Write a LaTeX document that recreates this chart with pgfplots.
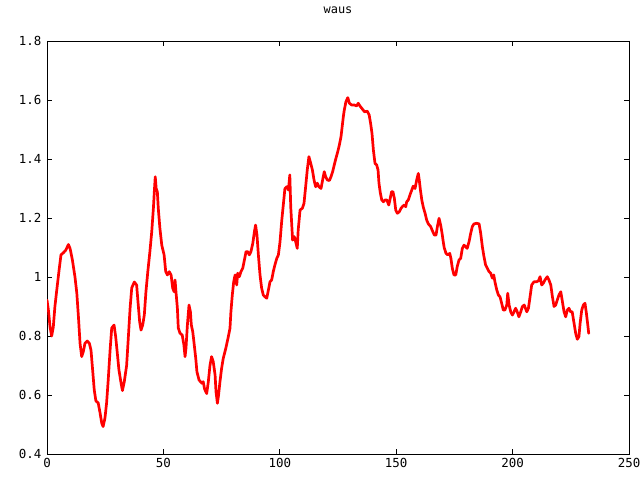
\documentclass[border=0pt]{standalone}
\usepackage{pgfplots}
\pgfplotsset{compat=1.18}
\usepackage{fontspec}
\setmainfont{DejaVu Sans Mono}
\pgfplotstableread{
x y
0 0.922
0.6 0.888
1.3 0.831
2.0 0.80
2.7 0.83
3.4 0.90
4.2 0.956
5.2 1.024
6.0 1.075
7.0 1.082
8.0 1.09
9.2 1.11
9.9 1.097
10.9 1.058
12.0 1.001
12.8 0.946
13.5 0.865
14.2 0.775
14.9 0.73
15.6 0.747
16.3 0.775
17.3 0.783
18.2 0.775
18.9 0.752
19.6 0.685
20.3 0.617
21.0 0.58
22.0 0.573
22.8 0.539
23.5 0.505
24.1 0.493
24.9 0.522
25.6 0.573
26.3 0.651
27.1 0.752
27.8 0.827
28.8 0.837
29.5 0.798
30.2 0.742
30.9 0.685
31.8 0.641
32.4 0.615
33.2 0.645
34.2 0.70
34.9 0.79
35.7 0.895
36.4 0.963
37.5 0.983
38.5 0.973
39.2 0.905
39.8 0.848
40.4 0.82
41.1 0.837
41.8 0.871
42.5 0.95
43.3 1.018
44.2 1.086
45.0 1.154
45.7 1.233
46.1 1.289
46.5 1.34
46.9 1.30
47.4 1.289
47.8 1.233
48.5 1.165
49.3 1.108
50.3 1.075
51.0 1.018
51.7 1.007
52.5 1.018
53.3 1.007
54.0 0.962
54.6 0.95
55.0 0.99
55.4 0.95
56.0 0.895
56.4 0.827
57.1 0.81
58.1 0.803
58.8 0.77
59.3 0.73
59.7 0.758
60.3 0.837
61.0 0.905
61.6 0.882
62.0 0.837
62.6 0.815
63.1 0.781
63.9 0.724
64.4 0.679
65.3 0.651
66.5 0.64
67.1 0.645
67.7 0.62
68.6 0.605
69.3 0.645
70.0 0.70
70.7 0.73
71.4 0.713
72.2 0.668
72.6 0.611
73.2 0.572
73.7 0.60
74.3 0.645
75.0 0.69
75.7 0.724
76.8 0.758
77.9 0.798
78.6 0.826
79.0 0.882
79.6 0.939
80.2 0.984
80.8 1.007
81.5 0.973
81.9 1.013
82.6 1.001
83.3 1.018
84.1 1.03
84.8 1.058
85.5 1.086
86.2 1.086
86.9 1.075
87.6 1.086
88.4 1.114
89.1 1.154
89.6 1.176
90.2 1.142
90.8 1.075
91.5 1.007
92.2 0.962
92.9 0.939
93.6 0.933
94.4 0.928
95.1 0.956
95.8 0.984
96.5 0.99
97.2 1.018
97.9 1.041
98.7 1.063
99.4 1.075
100.1 1.12
100.8 1.188
101.5 1.244
102.2 1.30
103.0 1.306
103.7 1.295
104.3 1.346
104.7 1.238
105.1 1.182
105.5 1.125
106.2 1.137
107.0 1.114
107.5 1.097
107.9 1.159
108.7 1.227
109.7 1.233
110.4 1.25
111.1 1.306
111.8 1.363
112.5 1.408
113.3 1.385
114.0 1.363
114.7 1.329
115.4 1.306
116.1 1.318
116.8 1.306
117.7 1.30
118.4 1.329
119.1 1.357
119.7 1.34
120.4 1.329
121.3 1.327
122.0 1.34
122.7 1.357
123.4 1.38
124.1 1.402
124.9 1.425
125.6 1.448
126.3 1.476
126.8 1.51
127.3 1.544
127.7 1.566
128.4 1.594
129.2 1.608
129.9 1.589
130.9 1.583
132.0 1.583
133.0 1.58
133.7 1.589
134.4 1.58
135.2 1.572
136.4 1.56
137.6 1.562
138.4 1.549
139.0 1.521
139.6 1.487
140.2 1.43
140.9 1.385
141.6 1.38
142.2 1.363
142.6 1.318
143.2 1.284
143.8 1.261
144.5 1.255
145.2 1.261
146.0 1.261
146.8 1.244
147.3 1.261
148.0 1.289
148.6 1.289
149.2 1.267
149.8 1.227
150.5 1.216
151.3 1.221
152.1 1.233
152.8 1.24
153.5 1.244
154.1 1.238
154.5 1.255
155.2 1.261
155.9 1.278
156.7 1.295
157.3 1.308
158.1 1.30
158.8 1.329
159.5 1.351
159.9 1.329
160.4 1.295
161.0 1.261
161.6 1.238
162.4 1.216
163.1 1.193
163.8 1.18
164.8 1.171
165.7 1.154
166.4 1.142
167.1 1.142
167.7 1.171
168.4 1.199
169.1 1.176
169.7 1.148
170.2 1.12
170.6 1.10
171.4 1.08
172.1 1.075
173.0 1.08
173.5 1.063
174.1 1.03
174.8 1.007
175.6 1.007
176.2 1.035
177.0 1.058
177.7 1.063
178.4 1.097
179.1 1.108
179.8 1.103
180.5 1.097
181.3 1.12
182.0 1.148
182.7 1.171
183.4 1.18
184.6 1.182
185.6 1.18
186.3 1.148
187.0 1.103
187.7 1.069
188.4 1.041
189.1 1.03
189.9 1.018
190.6 1.013
191.3 0.996
191.9 1.007
192.4 0.984
193.2 0.956
193.9 0.939
194.6 0.933
195.3 0.911
196.0 0.888
196.7 0.888
197.5 0.905
197.9 0.945
198.5 0.905
199.2 0.882
199.9 0.871
200.6 0.882
201.3 0.894
202.0 0.882
202.7 0.865
203.5 0.882
204.2 0.90
205.0 0.905
206.1 0.882
206.8 0.894
207.5 0.933
208.2 0.973
209.2 0.984
210.4 0.984
211.1 0.987
211.8 1.001
212.5 0.973
213.2 0.979
213.9 0.99
214.9 1.001
215.6 0.99
216.4 0.973
217.1 0.933
217.8 0.90
218.5 0.905
219.2 0.922
219.9 0.939
220.7 0.95
221.4 0.916
222.1 0.882
222.8 0.865
223.5 0.888
224.2 0.894
224.9 0.882
225.6 0.882
226.4 0.843
227.1 0.809
227.8 0.789
228.5 0.798
229.0 0.843
229.7 0.888
230.4 0.905
231.1 0.911
231.7 0.877
232.3 0.837
232.7 0.809
}\waus
\begin{document}
\begin{tikzpicture}
\path[use as bounding box] (0,0) rectangle (640bp,480bp);
\begin{axis}[
  at={(47bp,26bp)}, anchor=south west,
  width=582bp, height=413bp, scale only axis,
  xmin=0, xmax=250, ymin=0.4, ymax=1.8,
  xtick={0,50,...,250},
  ytick={0.4,0.6,...,1.8},
  yticklabels={0.4,0.6,0.8,1,1.2,1.4,1.6,1.8},
  tick align=inside,
  major tick length=5bp,
  axis line style={line width=0.9bp},
  every tick/.style={black, line width=0.9bp},
  /pgf/number format/assume math mode=true,
  tick label style={font=\fontsize{12.5}{14}\selectfont},
  yticklabel style={xshift=-2bp},
  xticklabel style={yshift=-1bp},
  title={waus},
  title style={at={(0.5,1)}, anchor=center, yshift=25bp, font=\fontsize{12}{14}\selectfont},
]
\addplot[color={rgb,255:red,255;green,0;blue,0}, line width=2.7bp, line join=round, line cap=round, no marks] table {\waus};
\end{axis}
\end{tikzpicture}
\end{document}
